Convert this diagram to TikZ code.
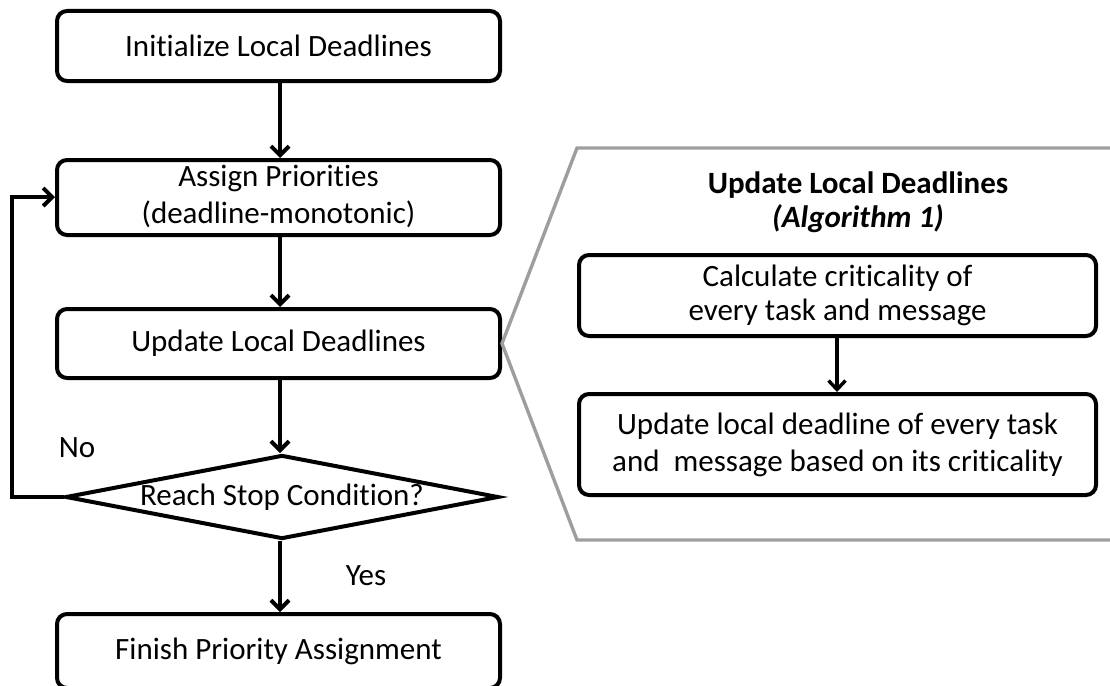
\documentclass[tikz,border=0pt]{standalone}
\usepackage{fontspec}
\setmainfont{Carlito}[Ligatures={NoCommon}]
\usetikzlibrary{arrows.meta,shapes.geometric}
\definecolor{framegray}{RGB}{158,158,158}
\tikzset{
  x=1pt, y=-1pt,
  box/.style={draw, line width=4pt, rounded corners=10pt, minimum width=443pt,
              inner sep=0pt, align=center, font=\fontsize{31}{38}\selectfont},
  rbox/.style={box, minimum width=517pt},
  decision/.style={draw, shape=diamond, line width=4pt, minimum width=433pt,
              minimum height=84pt, inner sep=0pt, font=\fontsize{31}{38}\selectfont},
  flow/.style={line width=4pt, -{Straight Barb[length=9pt,width=18pt,line width=4pt]}},
  subflow/.style={line width=3.4pt, -{Straight Barb[length=9pt,width=17pt,line width=3.4pt]}},
  lbl/.style={font=\fontsize{31}{38}\selectfont, inner sep=0pt},
  zoomframe/.style={draw=framegray, line width=3.4pt, line join=miter},
}
\begin{document}
\begin{tikzpicture}
\useasboundingbox (0,0) rectangle (1110,685);

% main loop
\node[box, minimum height=70pt] (init) at (278.5,46) {Initialize Local Deadlines};
\node[box, minimum height=69pt] (assign) at (278.5,197.5) {\raisebox{-3pt}{\begin{tabular}{@{}c@{}}Assign Priorities\\[-1pt](deadline-monotonic)\end{tabular}}};
\node[box, minimum height=69pt] (update) at (278.5,343.5) {Update Local Deadlines};
\node[decision] (stop) at (282,497) {\makebox[0pt]{Reach Stop Condition?}};
\node[box, minimum height=74pt] (finish) at (278.5,651) {Finish Priority Assignment};

\draw[flow] (init.south -| 280,0) -- (assign.north -| 280,0);
\draw[flow] (assign.south -| 280,0) -- (update.north -| 280,0);
\draw[flow] (update.south -| 280,0) -- (stop.north -| 280,0);
\draw[flow] (stop.south -| 280,0) -- (finish.north -| 280,0);

\coordinate (loopbot) at (12,497);
\coordinate (looptop) at (12,197);
\draw[flow, line join=miter] (stop.west) -- (loopbot) -- (looptop) -- (assign.west |- looptop);

\node[lbl] (no) at (77,448) {No};
\node[lbl] (yes) at (366,576) {Yes};

% detail of the update step
\coordinate (ftop) at (1120,148);
\coordinate (ftl) at (577,148);
\coordinate (fbl) at (577,540);
\coordinate (fbot) at (1120,540);
\draw[zoomframe] (ftop) -- (ftl) -- (update.east) -- (fbl) -- (fbot);

\node[font=\bfseries\fontsize{31}{34}\selectfont, align=center, inner sep=0pt] (title) at (858,202)
  {Update Local Deadlines\\\textit{(Algorithm 1)}};

\node[rbox, minimum height=81pt, font=\fontsize{31}{34}\selectfont] (crit) at (837.5,295.5)
  {Calculate criticality of\\every task and message};
\node[rbox, minimum height=101pt, font=\fontsize{31}{37}\selectfont] (local) at (837.5,444.5)
  {Update local deadline of every task\\and\ \ message based on its criticality};

\draw[subflow] (crit.south -| 837,0) -- (local.north -| 837,0);
\end{tikzpicture}
\end{document}
